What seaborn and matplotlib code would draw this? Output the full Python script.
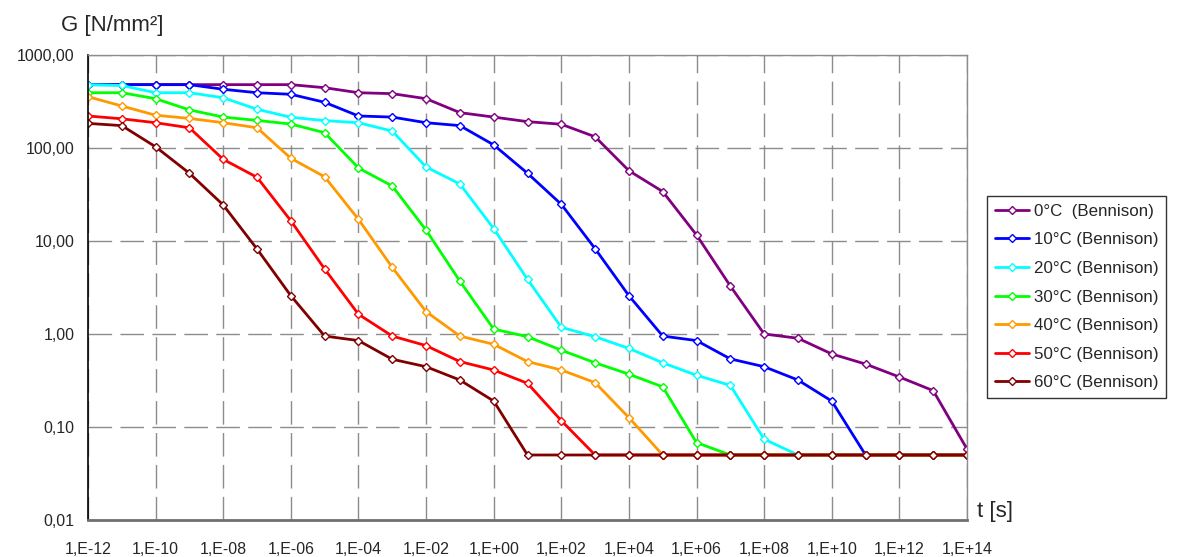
import math
import matplotlib
matplotlib.use("Agg")
import matplotlib.pyplot as plt
import matplotlib.ticker as mticker
import seaborn as sns
import pandas as pd

# Time axis: one point per decade
t_s = [1e-12, 1e-11, 1e-10, 1e-09, 1e-08, 1e-07, 1e-06, 1e-05, 1e-04,
       1e-03, 1e-02, 1e-01, 1e+00, 1e+01, 1e+02, 1e+03, 1e+04, 1e+05,
       1e+06, 1e+07, 1e+08, 1e+09, 1e+10, 1e+11, 1e+12, 1e+13, 1e+14]

# Shear modulus G [N/mm²] per temperature (Bennison)
g_0c = [480, 480, 480, 480, 480, 480, 480, 445, 393, 384, 339, 240, 215, 192,
        180, 132, 57, 34, 11.6, 3.28, 1.0, 0.90, 0.61, 0.475, 0.345, 0.246, 0.058]
g_10c = [480, 480, 480, 480, 428, 393, 378, 310, 221, 215, 187, 174, 108, 53.5,
         24.8, 8.26, 2.58, 0.95, 0.85, 0.54, 0.445, 0.32, 0.19, 0.05, 0.05, 0.05, 0.05]
g_20c = [480, 470, 393, 393, 347, 261, 214, 197, 187, 152, 62.5, 41, 13.6, 3.87,
         1.18, 0.935, 0.70, 0.49, 0.36, 0.28, 0.074, 0.05, 0.05, 0.05, 0.05, 0.05, 0.05]
g_30c = [393, 393, 339, 257, 215, 198, 181, 146, 61, 39, 13.1, 3.7, 1.13, 0.935,
         0.67, 0.49, 0.37, 0.27, 0.068, 0.05, 0.05, 0.05, 0.05, 0.05, 0.05, 0.05, 0.05]
g_40c = [356, 283, 225, 208, 187, 165, 77.5, 49, 17.1, 5.2, 1.74, 0.95, 0.775, 0.505,
         0.41, 0.30, 0.126, 0.05, 0.05, 0.05, 0.05, 0.05, 0.05, 0.05, 0.05, 0.05, 0.05]
g_50c = [221, 206, 187, 165, 75.5, 48.4, 16.5, 5.0, 1.63, 0.95, 0.75, 0.505, 0.41, 0.295,
         0.117, 0.05, 0.05, 0.05, 0.05, 0.05, 0.05, 0.05, 0.05, 0.05, 0.05, 0.05, 0.05]
g_60c = [184, 174, 103, 53.5, 24.4, 8.2, 2.58, 0.95, 0.85, 0.535, 0.445, 0.32, 0.19, 0.05,
         0.05, 0.05, 0.05, 0.05, 0.05, 0.05, 0.05, 0.05, 0.05, 0.05, 0.05, 0.05, 0.05]

labels = ["0°C  (Bennison)", "10°C (Bennison)", "20°C (Bennison)", "30°C (Bennison)",
          "40°C (Bennison)", "50°C (Bennison)", "60°C (Bennison)"]
colors = ["#800080", "#0000FF", "#00FFFF", "#00FF00", "#FF9900", "#FF0000", "#800000"]
series = [g_0c, g_10c, g_20c, g_30c, g_40c, g_50c, g_60c]

x_ticks = [1e-12, 1e-10, 1e-08, 1e-06, 1e-04, 1e-02, 1e+00,
           1e+02, 1e+04, 1e+06, 1e+08, 1e+10, 1e+12, 1e+14]
y_ticks = [0.01, 0.1, 1, 10, 100, 1000]

sns.set_style("white")
plt.rcParams["font.family"] = ["Liberation Sans", "DejaVu Sans"]

fig = plt.figure(figsize=(11.77, 5.57), dpi=100)
ax = fig.add_axes([88 / 1177, 1 - 520 / 557, (967 - 88) / 1177, (520 - 55) / 557])

for vals, lab, col in zip(series, labels, colors):
    df = pd.DataFrame({"t": t_s, "G": vals})
    sns.lineplot(data=df, x="t", y="G", ax=ax, color=col, label=lab,
                 linewidth=2.0, marker="D", markersize=4.5,
                 markerfacecolor="white", markeredgecolor=col,
                 markeredgewidth=1.0, sort=False)

ax.set_xscale("log")
ax.set_yscale("log")
ax.set_xlim(1e-12, 1e14)
ax.set_ylim(0.01, 1000)

ax.xaxis.set_major_locator(mticker.FixedLocator(x_ticks))
ax.xaxis.set_minor_locator(mticker.NullLocator())
ax.yaxis.set_major_locator(mticker.FixedLocator(y_ticks))
ax.yaxis.set_minor_locator(mticker.NullLocator())


def fmt_x(v, pos):
    e = int(round(math.log10(v)))
    return f"1,E{e:+03d}"


def fmt_y(v, pos):
    return f"{v:.2f}".replace(".", ",")


ax.xaxis.set_major_formatter(mticker.FuncFormatter(fmt_x))
ax.yaxis.set_major_formatter(mticker.FuncFormatter(fmt_y))

ax.set_xlabel("")
ax.set_ylabel("")
ax.tick_params(axis="x", which="major", direction="out", length=3.5, width=1,
               color="#808080", labelsize=11.5, pad=12)
ax.tick_params(axis="y", which="major", direction="out", length=3.5, width=1,
               color="#000000", labelsize=11.5, pad=6)

ax.set_axisbelow(True)
ax.grid(True, which="major", color="#8c8c8c", linewidth=1.0,
        linestyle=(0, (17, 6)))

for side in ["top", "right"]:
    ax.spines[side].set_color("#8c8c8c")
    ax.spines[side].set_linewidth(1.0)
ax.spines["left"].set_color("#000000")
ax.spines["left"].set_linewidth(1.2)
ax.spines["bottom"].set_color("#707070")
ax.spines["bottom"].set_linewidth(2.0)

fig.text(112 / 1177, 1 - 25 / 557, "G [N/mm²]", ha="center", va="center", fontsize=16)
fig.text(977 / 1177, 1 - 512 / 557, "t [s]", ha="left", va="center", fontsize=16)

leg = ax.legend(loc="center left", bbox_to_anchor=(987 / 1177, 1 - 297 / 557),
                bbox_transform=fig.transFigure, frameon=True, fancybox=False,
                fontsize=12.2, handlelength=2.0, handletextpad=0.3,
                labelspacing=0.8, borderpad=0.45, borderaxespad=0.0)
leg.get_frame().set_edgecolor("#000000")
leg.get_frame().set_linewidth(1.0)

fig.savefig("out.png", dpi=100)
